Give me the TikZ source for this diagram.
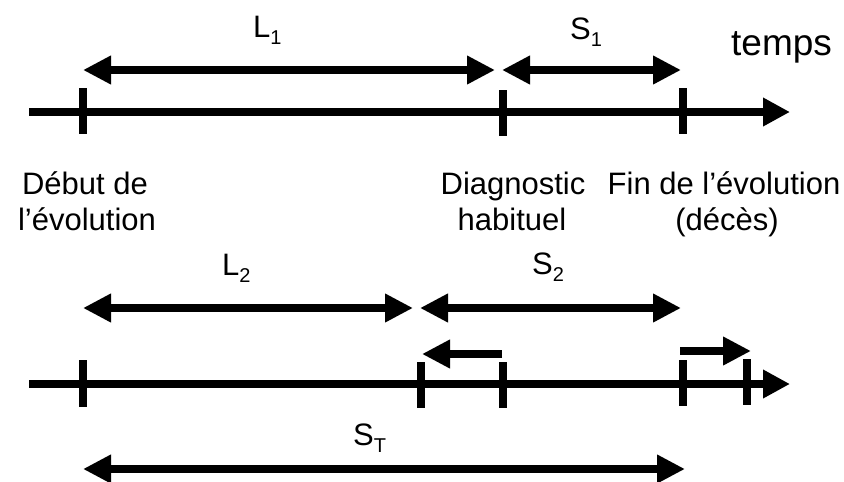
\documentclass[tikz,border=0pt]{standalone}
\usepackage{fontspec}
\setmainfont{Liberation Sans}
\usetikzlibrary{arrows.meta}
\tikzset{
  axisline/.style={line width=7.5pt, line cap=butt, -{Triangle[length=27pt,width=27pt]}},
  spanline/.style={line width=7.5pt, line cap=butt, {Triangle[length=28pt,width=27pt]}-{Triangle[length=28pt,width=27pt]}},
  oneway/.style={line width=7.5pt, line cap=butt, -{Triangle[length=28pt,width=27pt]}},
  tickmark/.style={line width=8pt, line cap=butt},
  lbl/.style={inner sep=0pt, anchor=base west, font=\fontsize{31}{35.6}\selectfont},
  desc/.style={inner sep=0pt, anchor=base, font=\fontsize{31}{35.6}\selectfont},
}
\newcommand{\mysub}[1]{\raisebox{-7pt}{\fontsize{20}{20}\selectfont #1}}
\begin{document}
\begin{tikzpicture}[x=1pt,y=-1pt]
\useasboundingbox (0,0) rectangle (844,482);
% top axis
\coordinate (t0) at (29,112);
\coordinate (t1) at (790,112);
\draw[axisline] (t0) -- (t1);
\coordinate (ta1) at (83,88); \coordinate (ta2) at (83,134);
\coordinate (tb1) at (503,90); \coordinate (tb2) at (503,136);
\coordinate (tc1) at (683,88); \coordinate (tc2) at (683,134);
\draw[tickmark] (ta1) -- (ta2);
\draw[tickmark] (tb1) -- (tb2);
\draw[tickmark] (tc1) -- (tc2);
\coordinate (l1a) at (83,70); \coordinate (l1b) at (495,70);
\coordinate (s1a) at (502,70); \coordinate (s1b) at (681,70);
\draw[spanline] (l1a) -- (l1b);
\draw[spanline] (s1a) -- (s1b);
\node[lbl] (L1) at (253,37) {L\mysub{1}};
\node[lbl] (S1) at (570,39) {S\mysub{1}};
\node[lbl, font=\fontsize{37}{40}\selectfont] (temps) at (731,55) {temps};
% descriptions
\node[desc] (d1) at (85,194) {Début de};
\node[desc] (d2) at (87,230) {l’évolution};
\node[desc] (g1) at (513,194) {Diagnostic};
\node[desc] (g2) at (512,230) {habituel};
\node[desc] (f1) at (724,194) {Fin de l’évolution};
\node[desc] (f2) at (727,230) {(décès)};
% bottom axis
\coordinate (b0) at (29,384);
\coordinate (b1) at (790,384);
\draw[axisline] (b0) -- (b1);
\coordinate (ba1) at (83,360); \coordinate (ba2) at (83,407);
\coordinate (bb1) at (421,362); \coordinate (bb2) at (421,408);
\coordinate (bc1) at (503,362); \coordinate (bc2) at (503,408);
\coordinate (bd1) at (683,360); \coordinate (bd2) at (683,406);
\coordinate (be1) at (747,359); \coordinate (be2) at (747,405);
\draw[tickmark] (ba1) -- (ba2);
\draw[tickmark] (bb1) -- (bb2);
\draw[tickmark] (bc1) -- (bc2);
\draw[tickmark] (bd1) -- (bd2);
\draw[tickmark] (be1) -- (be2);
\coordinate (l2a) at (83,308); \coordinate (l2b) at (413,308);
\coordinate (s2a) at (420,308); \coordinate (s2b) at (681,308);
\draw[spanline] (l2a) -- (l2b);
\draw[spanline] (s2a) -- (s2b);
\node[lbl] (L2) at (222,275) {L\mysub{2}};
\node[lbl] (S2) at (532,274) {S\mysub{2}};
\coordinate (ma) at (502,354); \coordinate (mb) at (422,354);
\draw[oneway] (ma) -- (mb);
\coordinate (na) at (680,351); \coordinate (nb) at (751,351);
\draw[oneway] (na) -- (nb);
\coordinate (sta) at (83,469); \coordinate (stb) at (685,469);
\draw[spanline] (sta) -- (stb);
\node[lbl] (ST) at (353,445) {S\mysub{T}};
\end{tikzpicture}
\end{document}
